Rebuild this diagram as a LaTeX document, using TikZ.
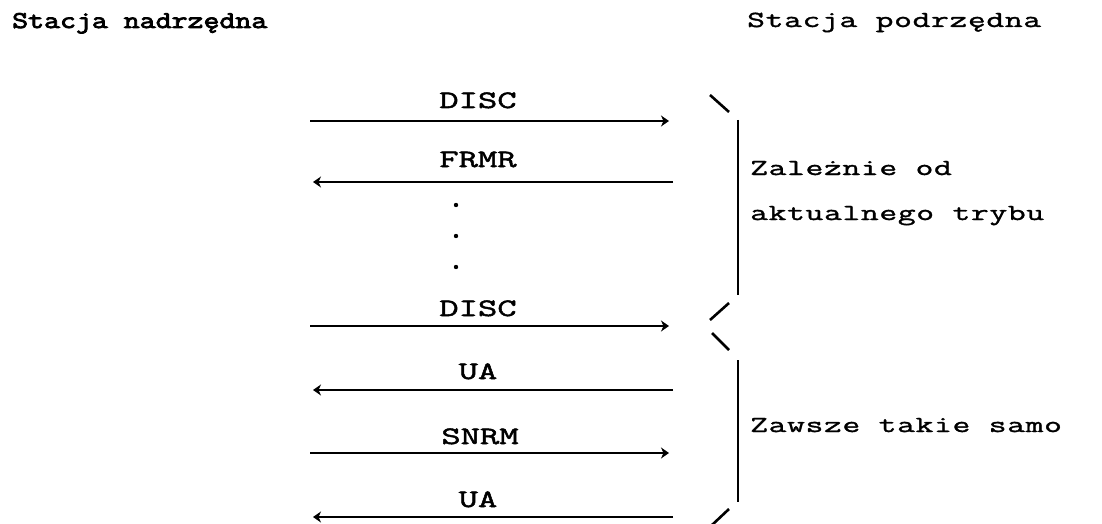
\documentclass[tikz,border=0pt]{standalone}
\usepackage{fontspec}
\usetikzlibrary{arrows.meta}
\newfontfamily\twnote[FakeStretch=1.5,LetterSpace=3,FakeBold=1.5]{Latin Modern Mono}
\newfontfamily\twmsg[FakeStretch=1.5,FakeBold=2]{Latin Modern Mono}
\newfontfamily\twhead[FakeStretch=1.29,FakeBold=3.5]{Latin Modern Mono}
\begin{document}
\begin{tikzpicture}[x=1pt,y=-1pt,
  msg/.style={inner sep=0pt, anchor=base, font=\twmsg\fontsize{25}{25}\selectfont},
  note/.style={inner sep=0pt, anchor=base west, font=\twnote\fontsize{23}{23}\selectfont},
  head/.style={inner sep=0pt, anchor=base west, font=\twhead\fontsize{24}{24}\selectfont},
  arr/.style={-{Stealth[length=8pt,width=11pt,inset=2.5pt]}, line width=2.4pt},
  brk/.style={line width=2.6pt},
  dotmark/.style={fill=black}]
\useasboundingbox (0,0) rectangle (1102,524);
% headers
\node[head] (hl) at (12,28) {Stacja nadrzędna};
\node[note] (hr) at (747,27) {Stacja podrzędna};
% arrow ends
\coordinate (s1) at (310,121); \coordinate (e1) at (669,121);
\coordinate (s2) at (673,182); \coordinate (e2) at (313,182);
\coordinate (s3) at (310,326); \coordinate (e3) at (669,326);
\coordinate (s4) at (673,390); \coordinate (e4) at (313,390);
\coordinate (s5) at (310,453); \coordinate (e5) at (669,453);
\coordinate (s6) at (673,517); \coordinate (e6) at (313,517);
\draw[arr] (s1) -- (e1);
\draw[arr] (s2) -- (e2);
\draw[arr] (s3) -- (e3);
\draw[arr] (s4) -- (e4);
\draw[arr] (s5) -- (e5);
\draw[arr] (s6) -- (e6);
% labels
\node[msg] (m1) at (478,108) {DISC};
\node[msg] (m2) at (478,167) {FRMR};
\node[msg] (m3) at (478,316) {DISC};
\node[msg] (m4) at (478,379) {UA};
\node[msg] (m5) at (480,444) {SNRM};
\node[msg] (m6) at (478,507) {UA};
% vertical ellipsis
\fill[dotmark] (456,205) circle (2.2pt);
\fill[dotmark] (456,236) circle (2.2pt);
\fill[dotmark] (456,267) circle (2.2pt);
% bracket 1
\draw[brk] (710,95) -- (729,112);
\draw[brk] (738,120) -- (738,295);
\draw[brk] (729,303) -- (710,320);
% bracket 2
\draw[brk] (712,333) -- (729,350);
\draw[brk] (738,360) -- (738,502);
\draw[brk] (729,509) -- (712,525);
% notes
\node[note] (n1) at (750,175) {Zależnie od};
\node[note] (n2) at (750,220) {aktualnego trybu};
\node[note] (n3) at (750,432) {Zawsze takie samo};
\end{tikzpicture}
\end{document}
